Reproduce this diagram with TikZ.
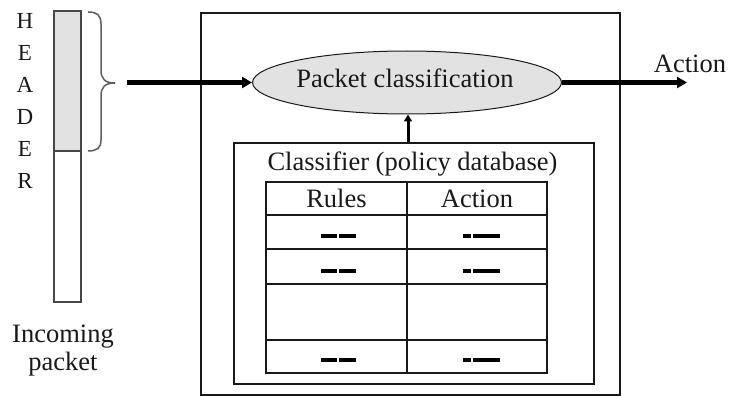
\documentclass[tikz,border=0pt]{standalone}
\usepackage{fontspec}
\setmainfont{Liberation Serif}
\usetikzlibrary{arrows.meta,shapes.geometric}
\definecolor{shade}{RGB}{226,226,226}
\definecolor{ink}{RGB}{25,25,25}
\begin{document}
\begin{tikzpicture}[x=1pt,y=-1pt,
  lbl/.style={font=\fontsize{26.5}{30}\selectfont,inner sep=0pt,anchor=base,text=ink},
  letter/.style={font=\fontsize{23}{26}\selectfont,inner sep=0pt,anchor=base,text=ink},
  frame/.style={draw=ink,line width=2pt},
  grid/.style={draw=ink,line width=2pt},
  flow/.style={draw=black,line width=5pt,-{Triangle[length=10pt,width=11pt]}},
  feed/.style={draw=black,line width=3pt,-{Triangle[length=7pt,width=8pt]}},
  entry/.style={line width=3.2pt,black}]
\useasboundingbox (0,0) rectangle (729,396);

% incoming packet with its header part shaded
\filldraw[fill=shade,draw=ink!80,line width=1.5pt] (54,11) rectangle (81,151);
\draw[ink!80,line width=1.5pt] (54,151) rectangle (81,302);
\foreach \ch [count=\i from 0] in {H,E,A,D,E,R}
  \node[letter] (hd\i) at (25,{28.5+32*\i}) {\ch};
\node[lbl] (inc) at (63,342) {Incoming};
\node[lbl] (pk) at (63,370) {packet};

% brace over the header
\draw[ink!70,line width=1.5pt]
  (88,12) .. controls (97,12) and (101,15) .. (101,24) -- (101,70)
  .. controls (101,79) and (105,83) .. (115,83)
  .. controls (105,83) and (101,87) .. (101,96) -- (101,140)
  .. controls (101,148) and (97,151) .. (88,151);
\coordinate (hdr) at (127,82.5);

% classifier unit
\draw[frame] (201,13) rectangle (620,395);
\node[ellipse,draw=ink,line width=1pt,fill=shade,minimum width=309pt,
      minimum height=63pt,inner sep=0pt] (cls) at (407,82.5) {};
\node[lbl] (clstxt) at (405,88) {Packet classification};

\coordinate (out) at (687,82.5);
\node[lbl] (act) at (690,73) {Action};

% policy database
\node[frame,rectangle,minimum width=360pt,minimum height=241pt,inner sep=0pt]
  (db) at (414,263.5) {};
\node[lbl] (dbtxt) at (412.5,170) {Classifier (policy database)};

\draw[grid] (266,182) rectangle (547,373);
\foreach \yy in {215,249,284,340} \draw[grid] (266,\yy) -- (547,\yy);
\draw[grid] (407,182) -- (407,373);
\node[lbl] (rules) at (336.5,207) {Rules};
\node[lbl] (acth) at (477,207) {Action};

% rule and action entries
\foreach \yy in {236,271,360} {
  \draw[entry] (321,\yy) -- (337,\yy);
  \draw[entry] (339,\yy) -- (356,\yy);
  \draw[entry] (463,\yy) -- (471,\yy);
  \draw[entry] (473,\yy) -- (500,\yy);
}

% data flow
\coordinate (fx) at (408,0);
\draw[flow] (hdr) -- (cls.west);
\draw[flow] (cls.east) -- (out);
\draw[feed] (db.north -| fx) -- (cls.south -| fx);
\end{tikzpicture}
\end{document}
